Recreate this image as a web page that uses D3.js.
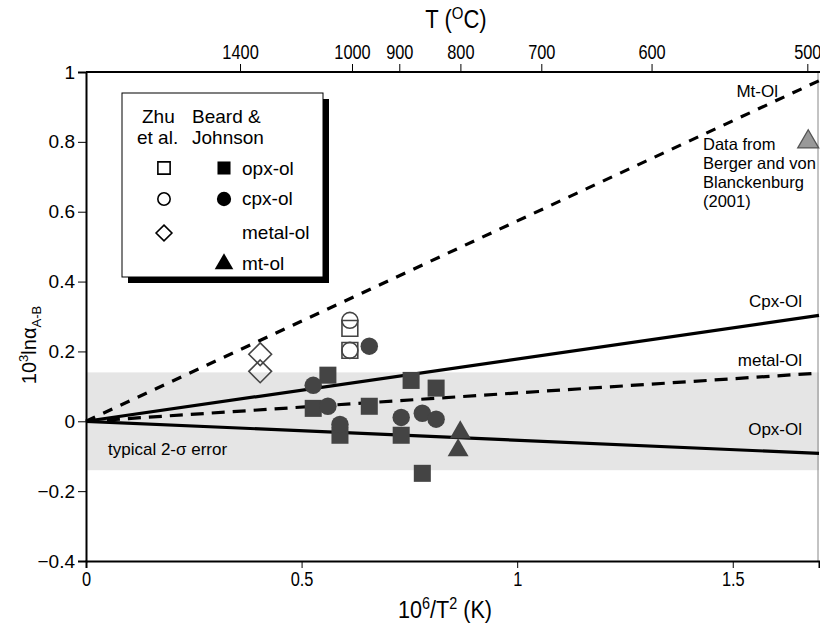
<!DOCTYPE html>
<html><head><meta charset="utf-8">
<script src="https://cdn.jsdelivr.net/npm/d3@7"></script>
<style>
body{margin:0;background:#fff;}
text{font-family:"Liberation Sans",Arial,sans-serif;}
</style></head>
<body><svg id="c" width="820" height="630"></svg>
<script>
// ---- data ----
const xTicks = [0, 0.5, 1, 1.5];
const yTicks = [-0.4, -0.2, 0, 0.2, 0.4, 0.6, 0.8, 1];
const tempTicks = [1400, 1000, 900, 800, 700, 600, 500];
const lineNames = ["Mt-Ol", "Cpx-Ol", "metal-Ol", "Opx-Ol"];
const lineEndY = [0.975, 0.303, 0.138, -0.092]; // value at x = 1.7 (lines from origin)
const lineDashed = [true, false, true, false];
// Zhu et al. (open)
const zhuOpx = [[0.612, 0.266], [0.612, 0.203]];
const zhuCpx = [[0.612, 0.289], [0.612, 0.203]];
const zhuMetal = [[0.404, 0.192], [0.404, 0.143]];
// Beard & Johnson (filled)
const bjOpx = [[0.561, 0.132], [0.527, 0.037], [0.589, -0.040], [0.657, 0.043], [0.754, 0.117], [0.812, 0.095], [0.731, -0.040], [0.780, -0.149]];
const bjCpx = [[0.527, 0.103], [0.561, 0.043], [0.589, -0.009], [0.657, 0.215], [0.731, 0.011], [0.780, 0.023], [0.812, 0.006]];
const bjMt = [[0.868, -0.032], [0.863, -0.083]];
const bergerMt = [[1.675, 0.80]];
const errBand = [-0.14, 0.14];

const svg = d3.select("#c");
const L = 86, R = 819, T = 72, B = 561;
const x = d3.scaleLinear().domain([0, 1.7]).range([L, R]);
const y = d3.scaleLinear().domain([-0.4, 1]).range([B, T]);
const dark = "#444";
const NARROW = "scale(0.84,1)";

// error band
svg.append("rect").attr("x", x(0)).attr("y", y(errBand[1]))
  .attr("width", x(1.7) - x(0)).attr("height", y(errBand[0]) - y(errBand[1]))
  .attr("fill", "#e5e5e5");
svg.append("text").attr("x", 108).attr("y", 455).attr("font-size", 17).text("typical 2-σ error");

// right border
svg.append("line").attr("x1", R - 1).attr("x2", R - 1).attr("y1", T).attr("y2", B)
  .attr("stroke", "#888").attr("stroke-width", 1);

// axes
const gx = svg.append("g").attr("transform", `translate(0,${B})`)
  .call(d3.axisBottom(x).tickValues(xTicks).tickFormat(d3.format("")).tickSize(7).tickPadding(4));
const gy = svg.append("g").attr("transform", `translate(${L},0)`)
  .call(d3.axisLeft(y).tickValues(yTicks).tickFormat(d => d3.format("")(+d.toFixed(1))).tickSize(8).tickPadding(3));
const gt = svg.append("g").attr("transform", `translate(0,${T})`)
  .call(d3.axisTop(x).tickValues(tempTicks.map(t => 1e6 / Math.pow(t + 273.15, 2)))
    .tickFormat((d, i) => tempTicks[i]).tickSize(8).tickPadding(5));
[gx, gy, gt].forEach(g => {
  g.select(".domain").attr("stroke", "#000").attr("stroke-width", 2);
  g.selectAll(".tick line").attr("stroke", "#000").attr("stroke-width", 1);
  g.selectAll("text").attr("font-size", 19.5).attr("fill", "#000")
    .attr("font-family", '"Liberation Sans",Arial,sans-serif');
});
gx.selectAll("text").attr("transform", NARROW);
gt.selectAll("text").attr("transform", NARROW);
gt.select(".domain").attr("d", `M${L},0H820`);
gy.selectAll("text").attr("font-size", 19);

// axis titles
const tt = svg.append("text").attr("transform", `translate(456,28) scale(0.88,1)`)
  .attr("text-anchor", "middle").attr("font-size", 25);
tt.append("tspan").text("T (");
tt.append("tspan").attr("dy", -9).attr("font-size", 17).text("O");
tt.append("tspan").attr("dy", 9).text("C)");
const xt = svg.append("text").attr("transform", `translate(445,618) scale(0.9,1)`)
  .attr("text-anchor", "middle").attr("font-size", 24);
xt.append("tspan").text("10");
xt.append("tspan").attr("dy", -9).attr("font-size", 16).text("6");
xt.append("tspan").attr("dy", 9).text("/T");
xt.append("tspan").attr("dy", -9).attr("font-size", 16).text("2");
xt.append("tspan").attr("dy", 9).text(" (K)");
const yt = svg.append("text").attr("transform", "translate(36,345) rotate(-90)")
  .attr("text-anchor", "middle").attr("font-size", 20);
yt.append("tspan").text("10");
yt.append("tspan").attr("dy", -8).attr("font-size", 13).text("3");
yt.append("tspan").attr("dy", 8).text("lnα");
yt.append("tspan").attr("dy", 5).attr("font-size", 13).text("A-B");

// lines
lineNames.forEach((n, i) => {
  svg.append("line").attr("x1", x(0)).attr("y1", y(0)).attr("x2", x(1.7)).attr("y2", y(lineEndY[i]))
    .attr("stroke", "#000").attr("stroke-width", 3.2)
    .attr("stroke-dasharray", lineDashed[i] ? (i === 0 ? "10,9" : "13,8") : null);
});
const lblPos = [[778, 97], [802, 307], [802, 366], [802, 435]];
lineNames.forEach((n, i) => {
  svg.append("text").attr("x", lblPos[i][0]).attr("y", lblPos[i][1]).attr("text-anchor", "end")
    .attr("font-size", 17).text(n);
});

// markers
const sym = (type, size) => d3.symbol().type(type).size(size)();
function plot(data, type, size, fill, stroke, sw) {
  svg.append("g").selectAll("path").data(data).join("path")
    .attr("transform", d => `translate(${x(d[0])},${y(d[1])})`)
    .attr("d", sym(type, size)).attr("fill", fill).attr("stroke", stroke).attr("stroke-width", sw);
}
plot(bjOpx, d3.symbolSquare, 290, dark, "none", 0);
plot(bjCpx, d3.symbolCircle, 240, dark, "none", 0);
plot(bjMt, d3.symbolTriangle, 190, dark, "none", 0);
plot(zhuOpx, d3.symbolSquare, 250, "#fff", dark, 1.6);
plot(zhuCpx, d3.symbolCircle, 200, "none", dark, 1.6);
plot(zhuMetal, d3.symbolDiamond2, 330, "none", dark, 1.6);
plot(bergerMt, d3.symbolTriangle, 190, "#999", "#555", 1.3);

const bt = svg.append("text").attr("x", 703).attr("y", 150).attr("font-size", 16.5);
["Data from", "Berger and von", "Blanckenburg", "(2001)"].forEach((s, i) =>
  bt.append("tspan").attr("x", 703).attr("dy", i ? 19 : 0).text(s));

// legend
const lg = svg.append("g");
lg.append("rect").attr("x", 128).attr("y", 99).attr("width", 201).attr("height", 184).attr("fill", "#000");
lg.append("rect").attr("x", 122).attr("y", 93).attr("width", 201).attr("height", 184)
  .attr("fill", "#fff").attr("stroke", "#000").attr("stroke-width", 1);
const lt = (tx, ty, s) => lg.append("text").attr("x", tx).attr("y", ty).attr("font-size", 19).text(s);
lt(142, 123, "Zhu"); lt(137, 144, "et al."); lt(192, 123, "Beard &"); lt(192, 144, "Johnson");
const lsym = (cx, cy, type, size, fill, stroke) => lg.append("path")
  .attr("transform", `translate(${cx},${cy})`).attr("d", sym(type, size))
  .attr("fill", fill).attr("stroke", stroke).attr("stroke-width", 1.6);
lsym(164, 168, d3.symbolSquare, 150, "#fff", "#000");
lsym(164, 199, d3.symbolCircle, 120, "#fff", "#000");
lsym(164, 233, d3.symbolDiamond2, 160, "#fff", "#000");
lsym(224, 168, d3.symbolSquare, 170, "#000", "none");
lsym(224, 199, d3.symbolCircle, 160, "#000", "none");
lsym(224, 264, d3.symbolTriangle, 150, "#000", "none");
lt(242, 175, "opx-ol"); lt(242, 205, "cpx-ol"); lt(242, 239, "metal-ol"); lt(242, 270, "mt-ol");
</script></body></html>
